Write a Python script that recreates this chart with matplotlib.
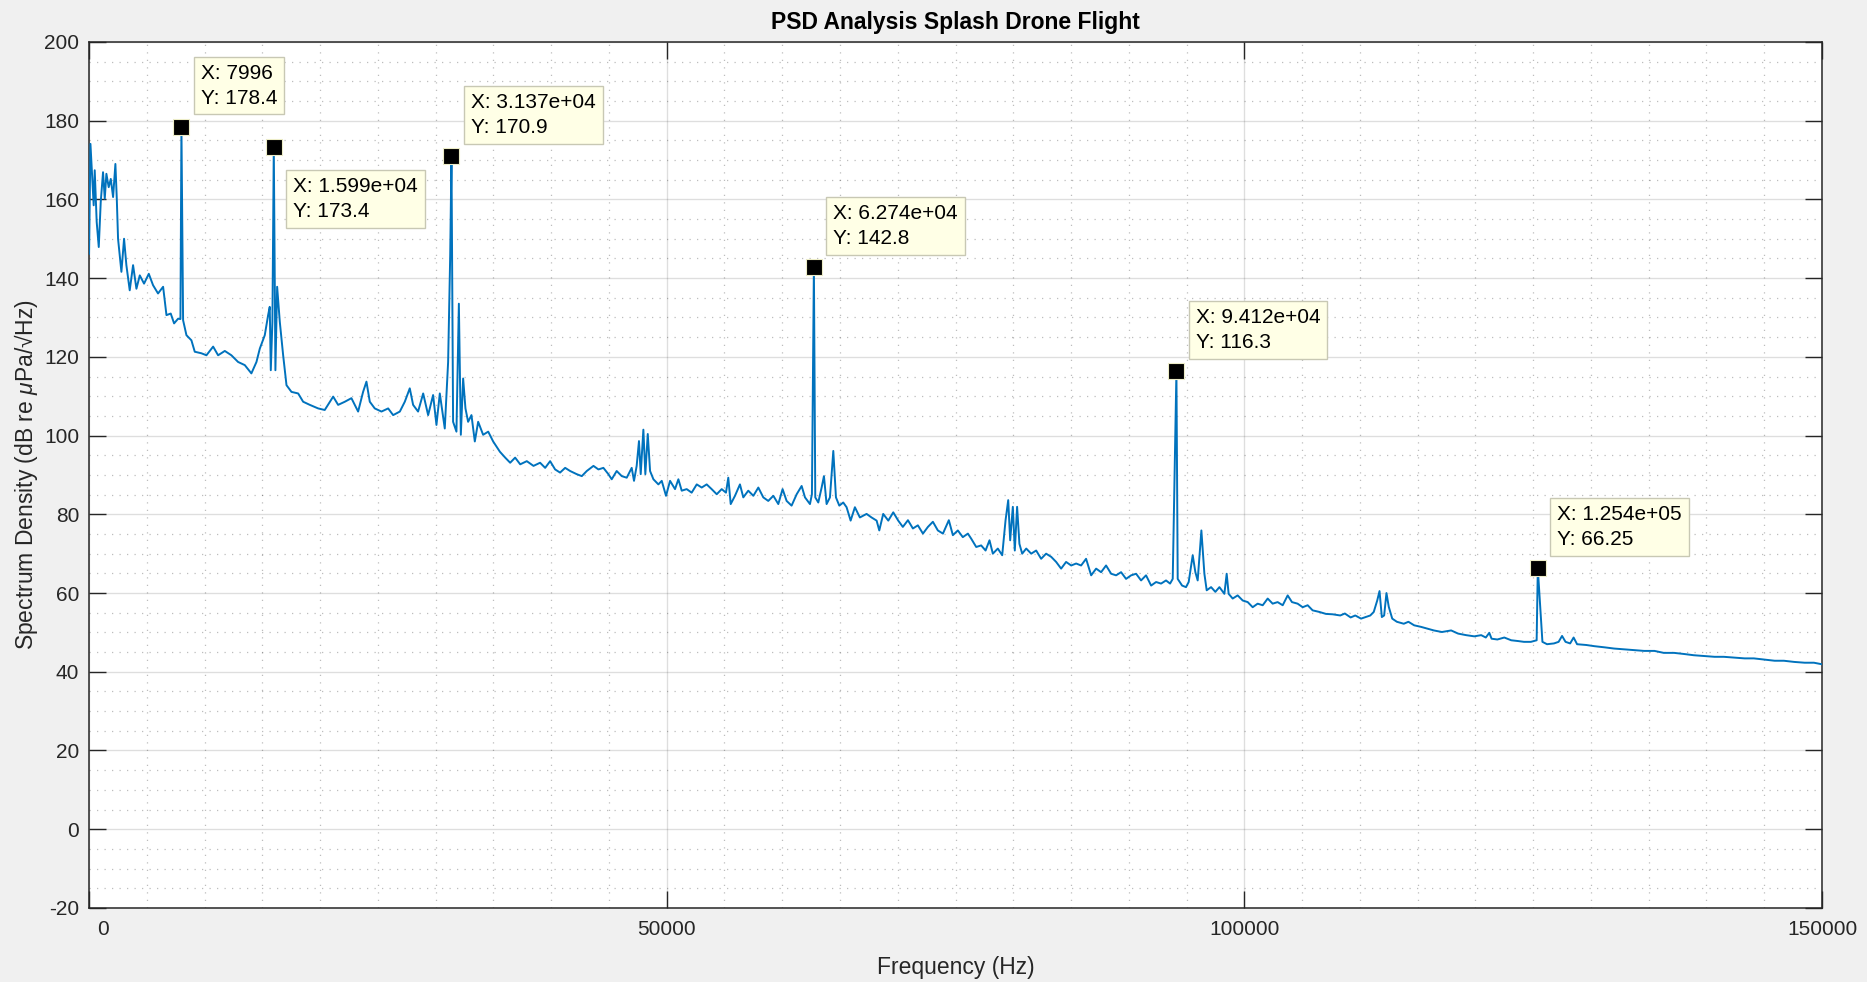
import matplotlib
matplotlib.use("Agg")
import matplotlib.pyplot as plt
import matplotlib.transforms as mtransforms
from matplotlib.ticker import MultipleLocator
import numpy as np

plt.rcParams['font.family'] = ['Liberation Sans', 'DejaVu Sans']
plt.rcParams['mathtext.fontset'] = 'custom'
plt.rcParams['mathtext.rm'] = 'Liberation Sans'
plt.rcParams['mathtext.it'] = 'Liberation Sans:italic'
plt.rcParams['axes.unicode_minus'] = False

# spectrum, frequency in kHz, level in dB
low_khz = [0.0, 0.12, 0.26, 0.40, 0.49, 0.66, 0.84, 1.01, 1.21, 1.36,
           1.50, 1.70, 1.88, 2.08, 2.28, 2.40, 2.51, 2.80, 3.03, 3.23,
           3.52, 3.81, 4.10, 4.39, 4.76, 5.17, 5.54, 5.97, 6.41, 6.70,
           7.07, 7.36, 7.71, 7.91, 7.996, 8.14, 8.43, 8.86, 9.15, 9.73,
           10.16, 10.74, 11.17, 11.75, 12.32, 12.90, 13.48, 14.05, 14.49, 14.78,
           15.21, 15.50, 15.64, 15.73, 15.87, 15.99, 16.13, 16.28, 16.51, 16.80,
           17.09, 17.52, 18.10, 18.53, 19.11, 19.83, 20.40, 21.13, 21.56, 22.14,
           22.71, 23.29, 23.72, 24.01, 24.30, 24.73, 25.31, 25.89, 26.32, 26.90,
           27.33, 27.76, 28.05, 28.48, 28.92, 29.35, 29.78, 30.07, 30.36, 30.79,
           31.08, 31.26, 31.37, 31.51, 31.80, 32.01, 32.18, 32.38, 32.58, 32.81,
           33.10, 33.39, 33.68, 34.11, 34.55, 34.98, 35.56]
low_db = [146.2, 174.1, 166.1, 158.5, 167.4, 154.3, 147.9, 159.3, 166.9, 160.2,
          166.5, 163.1, 165.2, 160.6, 169.0, 160.2, 150.0, 141.6, 150.0, 143.3,
          136.9, 143.3, 137.3, 140.7, 138.6, 141.1, 138.2, 136.1, 137.8, 130.6,
          131.0, 128.5, 129.7, 129.6, 178.4, 129.3, 125.5, 124.2, 121.3, 120.9,
          120.4, 122.6, 120.4, 121.5, 120.4, 118.7, 117.9, 115.8, 118.7, 122.1,
          125.5, 130.6, 132.7, 116.6, 128.9, 173.4, 116.6, 137.8, 128.9, 120.4,
          112.8, 111.1, 110.7, 108.6, 107.8, 106.9, 106.5, 109.9, 107.8, 108.6,
          109.5, 106.1, 111.1, 113.7, 108.6, 106.9, 106.1, 106.9, 105.2, 106.1,
          108.6, 112.0, 107.8, 106.1, 110.7, 105.2, 110.3, 102.7, 110.7, 101.8,
          118.7, 145.8, 170.9, 103.5, 101.0, 133.5, 100.2, 114.5, 106.9, 103.5,
          105.2, 98.5, 103.5, 100.2, 101.0, 98.5, 95.9]

mid_khz = [36.02, 36.45, 36.88, 37.32, 37.89, 38.47, 39.04, 39.48, 39.91, 40.34,
           40.77, 41.21, 41.64, 42.21, 42.65, 43.08, 43.66, 44.09, 44.52, 44.95,
           45.24, 45.67, 46.11, 46.54, 46.97, 47.17, 47.40, 47.60, 47.75, 47.98,
           48.15, 48.36, 48.56, 48.85, 49.28, 49.57, 49.94, 50.29, 50.72, 51.01,
           51.30, 51.73, 52.16, 52.60, 53.03, 53.46, 53.89, 54.33, 54.76, 55.13,
           55.33, 55.54, 55.91, 56.34, 56.63, 57.06, 57.50, 57.93, 58.36, 58.79,
           59.23, 59.66, 60.03, 60.38, 60.81, 61.25, 61.68, 61.97, 62.40, 62.57,
           62.74, 62.86, 63.12, 63.41, 63.61, 63.84, 64.13, 64.42, 64.65, 64.94,
           65.28, 65.57, 65.92, 66.29, 66.72, 67.30, 67.73, 68.17, 68.40, 68.74,
           69.18, 69.61, 70.04]
mid_db = [94.4, 93.1, 94.4, 92.7, 93.5, 92.3, 93.1, 91.8, 93.5, 91.4,
          90.6, 91.8, 91.0, 90.2, 89.7, 91.0, 92.3, 91.4, 91.8, 90.2,
          88.9, 91.0, 89.7, 89.3, 91.8, 88.5, 92.3, 98.6, 90.2, 101.5,
          90.2, 100.4, 91.0, 88.9, 87.6, 88.5, 84.7, 88.5, 86.4, 88.9,
          86.0, 86.4, 85.5, 87.6, 86.8, 87.6, 86.4, 85.1, 86.4, 85.5,
          89.3, 82.6, 84.7, 87.6, 84.3, 86.0, 84.7, 86.8, 84.3, 83.4,
          84.7, 82.6, 86.4, 83.4, 82.2, 85.1, 87.2, 84.3, 82.6, 85.1,
          142.8, 84.3, 83.0, 86.8, 89.7, 82.6, 84.3, 96.1, 84.3, 82.2,
          83.0, 81.8, 78.4, 81.8, 79.2, 80.1, 79.2, 78.4, 75.9, 80.1,
          78.4, 80.5, 78.4]

high_khz = [70.44, 70.88, 71.31, 71.74, 72.18, 72.61, 73.04, 73.47, 73.91, 74.42,
            74.77, 75.20, 75.63, 76.07, 76.36, 76.79, 77.22, 77.60, 77.94, 78.23,
            78.66, 79.04, 79.33, 79.56, 79.73, 79.96, 80.13, 80.33, 80.53, 80.77,
            81.12, 81.55, 81.98, 82.41, 82.84, 83.28, 83.71, 84.14, 84.57, 85.01,
            85.44, 85.87, 86.30, 86.74, 87.17, 87.60, 88.03, 88.47, 88.90, 89.33,
            89.76, 90.20, 90.63, 91.06, 91.49, 91.93, 92.36, 92.79, 93.22, 93.57,
            93.80, 94.12, 94.23, 94.61, 94.95, 95.18, 95.53, 95.76, 95.96, 96.28,
            96.54, 96.74, 97.12, 97.49, 97.84, 98.27, 98.47, 98.64, 98.99, 99.42,
            99.86, 100.29, 100.72, 101.15, 101.59, 102.02, 102.45, 102.88, 103.32, 103.75,
            104.12, 104.61, 105.05, 105.48, 105.91, 106.49, 107.06, 107.64]
high_db = [76.8, 78.5, 76.4, 77.2, 75.1, 76.8, 78.1, 75.9, 75.1, 78.5,
           74.7, 75.9, 74.2, 75.1, 73.8, 71.7, 72.1, 70.8, 73.4, 70.0,
           71.3, 69.6, 78.5, 83.6, 73.4, 81.9, 70.8, 81.9, 72.5, 70.0,
           71.3, 70.0, 70.8, 68.7, 70.0, 69.2, 67.9, 66.2, 67.9, 67.0,
           67.5, 67.0, 68.7, 64.5, 66.2, 65.3, 67.0, 64.9, 64.5, 65.3,
           63.6, 64.5, 64.9, 63.2, 64.5, 61.9, 62.8, 62.4, 63.2, 62.4,
           63.6, 116.3, 63.6, 61.9, 61.5, 62.8, 69.6, 65.3, 63.2, 75.9,
           64.9, 60.7, 61.5, 60.3, 61.5, 59.8, 64.9, 59.8, 58.6, 59.4,
           58.1, 57.7, 56.4, 57.3, 56.9, 58.6, 57.3, 57.7, 56.9, 59.4,
           57.7, 57.3, 56.4, 56.9, 55.6, 55.2, 54.7, 54.6]

tail_khz = [108.3, 108.7, 109.2, 109.6, 110.1, 110.5, 110.9, 111.2, 111.5, 111.7,
            111.9, 112.1, 112.3, 112.5, 112.8, 113.2, 113.8, 114.2, 114.7, 115.3,
            115.8, 116.4, 117.1, 117.9, 118.5, 119.2, 119.9, 120.5, 120.9, 121.2,
            121.4, 121.9, 122.5, 123.1, 123.7, 124.2, 124.8, 125.3, 125.4, 125.8,
            126.2, 126.8, 127.2, 127.5, 127.8, 128.2, 128.5, 128.8, 129.6, 130.3,
            131.2, 132.0, 132.9, 133.8, 134.6, 135.5, 136.3, 137.2, 138.1, 138.9,
            139.8, 140.7, 141.5, 142.4, 143.3, 144.1, 145.0, 145.9, 146.7, 147.6,
            148.5, 149.3, 150.0]
tail_db = [54.3, 54.8, 53.8, 54.3, 53.5, 53.9, 54.3, 55.2, 58.1, 60.5,
           53.9, 54.3, 60.0, 56.5, 53.5, 52.7, 52.2, 52.7, 51.8, 51.4,
           51.0, 50.5, 50.1, 50.5, 49.7, 49.3, 49.0, 49.3, 48.7, 49.9,
           48.4, 48.2, 48.7, 48.0, 47.8, 47.6, 47.6, 48.0, 66.25, 47.6,
           47.0, 47.2, 47.6, 49.1, 47.6, 47.2, 48.7, 47.0, 46.8, 46.5,
           46.2, 45.9, 45.7, 45.5, 45.3, 45.3, 44.8, 44.8, 44.5, 44.2,
           44.0, 43.8, 43.8, 43.6, 43.4, 43.4, 43.1, 42.8, 42.8, 42.5,
           42.3, 42.3, 41.9]

# data tips
tip_hz = [7996, 15990, 31370, 62740, 94120, 125400]
tip_db = [178.4, 173.4, 170.9, 142.8, 116.3, 66.25]
tip_x_text = ['7996', '1.599e+04', '3.137e+04', '6.274e+04', '9.412e+04', '1.254e+05']
tip_y_text = ['178.4', '173.4', '170.9', '142.8', '116.3', '66.25']
tip_below = [False, True, False, False, False, False]

freq = np.array(low_khz + mid_khz + high_khz + tail_khz) * 1000
level = np.array(low_db + mid_db + high_db + tail_db)

axis_col = '#262626'

fig = plt.figure(figsize=(18.67, 9.82), dpi=100, facecolor='#F0F0F0')
ax = fig.add_axes([0.0477, 0.0754, 0.9282, 0.8819])
ax.set_facecolor('white')

ax.plot(freq, level, color='#0072BD', lw=1.4, zorder=3)

for fx, fy, tx, ty, below in zip(tip_hz, tip_db, tip_x_text, tip_y_text, tip_below):
    ax.plot(fx, fy, 's', ms=11.5, mfc='black', mec='#EDEDC8', mew=0.8, zorder=5)
    off = (14, -22) if below else (14, 14)
    ax.annotate('X: %s\nY: %s' % (tx, ty), xy=(fx, fy), xytext=off,
                textcoords='offset points', ha='left',
                va='top' if below else 'bottom', fontsize=15, linespacing=1.4,
                color='black', zorder=6,
                bbox=dict(boxstyle='square,pad=0.33', fc='#FFFFE6', ec='#C8C8B4', lw=1))

ax.set_xlim(0, 150000)
ax.set_ylim(-20, 200)
ax.set_xticks([0, 50000, 100000, 150000])
ax.set_xticklabels(['0', '50000', '100000', '150000'])
ax.set_yticks(np.arange(-20, 201, 20))
ax.xaxis.set_minor_locator(MultipleLocator(5000))
ax.yaxis.set_minor_locator(MultipleLocator(5))

ax.tick_params(which='both', direction='in', top=True, right=True,
               colors=axis_col, labelsize=15)
ax.tick_params(which='major', length=12, width=1)
ax.tick_params(which='minor', length=0)
ax.tick_params(axis='x', pad=9)
ax.tick_params(axis='y', pad=7)

ax.grid(which='major', color=axis_col, alpha=0.15, lw=1)
ax.grid(which='minor', color=axis_col, alpha=0.3, lw=0.9, linestyle=(0, (1, 5)))
ax.set_axisbelow(True)

for s in ax.spines.values():
    s.set_color(axis_col)
    s.set_linewidth(1.1)

# MATLAB nudges the first x label away from the y labels
lbl0 = ax.get_xticklabels()[0]
lbl0.set_transform(lbl0.get_transform() +
                   mtransforms.ScaledTranslation(10 / 72, 0, fig.dpi_scale_trans))

ax.set_title('PSD Analysis Splash Drone Flight', fontsize=16.5, fontweight='bold', pad=9.5)
ax.set_xlabel('Frequency (Hz)', fontsize=16.5, color=axis_col, labelpad=12)
ax.set_ylabel('Spectrum Density (dB re $\\mu$Pa/\u221aHz)', fontsize=16.5,
              color=axis_col, labelpad=3)

fig.savefig('out.png', dpi=100, facecolor=fig.get_facecolor())
